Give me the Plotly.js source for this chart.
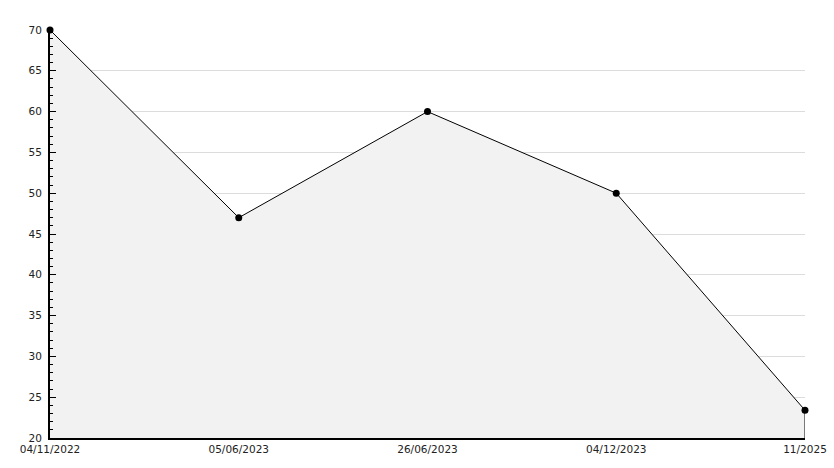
<!DOCTYPE html>
<html>
<head>
<meta charset="utf-8">
<script src="https://cdn.plot.ly/plotly-3.0.1.min.js"></script>
<style>html,body{margin:0;padding:0;background:#fff;}#chart{width:834px;height:468px;}</style>
</head>
<body>
<div id="chart"></div>
<script>
var dates = ["04/11/2022", "05/06/2023", "26/06/2023", "04/12/2023", "11/2025"];
var values = [70, 47, 60, 50, 23.4];
var yMin = 20, yMax = 70;

var last = dates.length - 1;
var traces = [
  {
    x: dates, y: values, type: 'scatter', mode: 'lines+markers',
    fill: 'tozeroy', fillcolor: '#f2f2f2',
    line: {color: '#000', width: 1},
    marker: {color: '#000', size: 7, symbol: 'circle'},
    hoverinfo: 'x+y', cliponaxis: false
  },
  {
    x: [dates[last], dates[last]], y: [values[last], yMin], type: 'scatter', mode: 'lines',
    line: {color: '#000', width: 1}, hoverinfo: 'skip'
  }
];

var layout = {
  width: 834, height: 468,
  margin: {l: 50, r: 29, t: 30, b: 30},
  paper_bgcolor: '#fff', plot_bgcolor: '#fff',
  showlegend: false,
  font: {family: 'DejaVu Sans, sans-serif', size: 10.5, color: '#222'},
  xaxis: {
    type: 'category', range: [0, last],
    showgrid: false, showline: true, linecolor: '#000', linewidth: 2,
    ticks: '', ticklen: 0, zeroline: false,
    tickfont: {size: 10.5, color: '#222'}
  },
  yaxis: {
    range: [yMin, yMax], dtick: 5, tick0: 0,
    showgrid: true, gridcolor: '#dcdcdc', gridwidth: 1,
    showline: true, linecolor: '#000', linewidth: 2,
    ticks: 'inside', ticklen: 6, tickcolor: '#000', tickwidth: 1,
    ticklabelstandoff: 4,
    minor: {dtick: 1, ticks: 'inside', ticklen: 3, tickcolor: '#000', showgrid: false},
    zeroline: false,
    tickfont: {size: 10.5, color: '#222'}
  }
};

Plotly.newPlot('chart', traces, layout, {displayModeBar: false, staticPlot: true});
</script>
</body>
</html>
